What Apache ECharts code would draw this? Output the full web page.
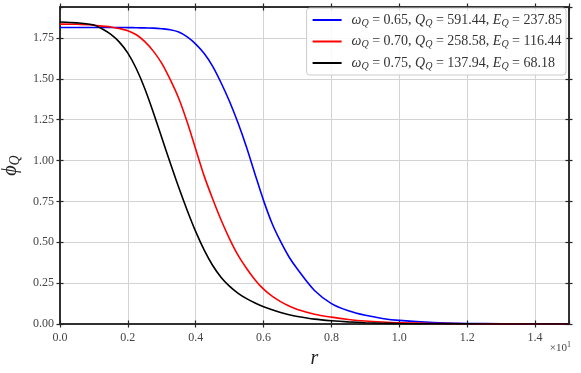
<!DOCTYPE html>
<html><head><meta charset="utf-8">
<script src="https://cdn.jsdelivr.net/npm/echarts@6/dist/echarts.min.js"></script>
<style>html,body{margin:0;padding:0;background:#fff}#c{width:581px;height:373px}</style>
</head><body><div id="c"></div>
<script>
var rVals = [0, 0.05, 0.1, 0.125, 0.15, 0.175, 0.2, 0.225, 0.25, 0.275, 0.3, 0.325, 0.35, 0.375, 0.4, 0.425, 0.45, 0.475, 0.5, 0.525, 0.55, 0.575, 0.6, 0.625, 0.65, 0.675, 0.7, 0.75, 0.8, 0.85, 0.9, 0.95, 1.0, 1.1, 1.2, 1.3, 1.4, 1.5];
var phiBlue = [1.815, 1.815, 1.815, 1.815, 1.815, 1.815, 1.814, 1.813, 1.812, 1.811, 1.807, 1.801, 1.787, 1.757, 1.713, 1.655, 1.577, 1.475, 1.360, 1.228, 1.080, 0.915, 0.755, 0.615, 0.505, 0.410, 0.335, 0.205, 0.125, 0.081, 0.053, 0.034, 0.022, 0.009, 0.0035, 0.0014, 0.0006, 0.0002];
var phiRed = [1.835, 1.834, 1.828, 1.823, 1.818, 1.808, 1.795, 1.770, 1.728, 1.670, 1.595, 1.495, 1.380, 1.235, 1.070, 0.905, 0.765, 0.635, 0.520, 0.420, 0.340, 0.270, 0.213, 0.170, 0.137, 0.110, 0.089, 0.060, 0.042, 0.028, 0.018, 0.012, 0.008, 0.0035, 0.0015, 0.0007, 0.0003, 0.0001];
var phiBlack = [1.848, 1.843, 1.830, 1.805, 1.772, 1.725, 1.658, 1.562, 1.440, 1.295, 1.140, 0.985, 0.835, 0.695, 0.565, 0.452, 0.358, 0.285, 0.230, 0.188, 0.155, 0.128, 0.106, 0.087, 0.071, 0.057, 0.046, 0.030, 0.020, 0.013, 0.008, 0.005, 0.003, 0.0012, 0.0005, 0.0002, 0.0001, 0];
var omegaVals = ['0.65', '0.70', '0.75'];
var qVals = ['591.44', '258.58', '137.94'];
var eVals = ['237.85', '116.44', '68.18'];
var colors = ['#0000ff', '#ff0000', '#000000'];
var xTicksInterval = 0.2, yTicksInterval = 0.25;

var FONT = 'Liberation Serif';
function zip(a, b) { return a.map(function (v, i) { return [v, b[i]]; }); }
var seriesData = [phiBlue, phiRed, phiBlack];
var names = ['s0', 's1', 's2'];
var axisColor = '#262626';

function xAx(pos, inside, primary) {
  return {
    type: 'value', min: 0, max: 1.5, interval: xTicksInterval, position: pos,
    axisLine: { show: true, onZero: false, lineStyle: { color: axisColor, width: 1.5 } },
    axisTick: { show: true, inside: inside, length: 3.5, lineStyle: { color: axisColor, width: 1.2 } },
    axisLabel: primary ? { show: true, showMaxLabel: false, color: '#444', fontFamily: FONT, fontSize: 12, margin: 8,
      formatter: function (v) { return v.toFixed(1); } } : { show: false },
    splitLine: { show: primary, lineStyle: { color: '#d3d3d3', width: 1 } },
    name: primary ? 'r' : '', nameLocation: 'middle', nameGap: 18,
    nameTextStyle: { fontFamily: FONT, fontStyle: 'italic', fontSize: 20, color: '#222' }
  };
}
function yAx(pos, inside, primary) {
  return {
    type: 'value', min: 0, max: 1.94, interval: yTicksInterval, position: pos,
    axisLine: { show: true, onZero: false, lineStyle: { color: axisColor, width: 1.5 } },
    axisTick: { show: true, inside: inside, length: 3.5, lineStyle: { color: axisColor, width: 1.2 } },
    axisLabel: primary ? { show: true, showMaxLabel: false, color: '#444', fontFamily: FONT, fontSize: 12, margin: 6,
      formatter: function (v) { return v.toFixed(2); } } : { show: false },
    splitLine: { show: primary, lineStyle: { color: '#d3d3d3', width: 1 } },
    name: primary ? '{a|ϕ}{s|Q}' : '', nameLocation: 'middle', nameGap: 35, nameRotate: 90,
    nameTextStyle: { rich: {
      a: { fontFamily: FONT, fontStyle: 'italic', fontSize: 20, color: '#222' },
      s: { fontFamily: FONT, fontStyle: 'italic', fontSize: 14, color: '#222', padding: [8, 0, 0, 0] }
    } }
  };
}

var chart = echarts.init(document.getElementById('c'), null, { renderer: 'canvas' });
var option = {
  animation: false,
  backgroundColor: '#fff',
  grid: { left: 60, right: 12, top: 7, bottom: 49, containLabel: false, outerBoundsMode: 'none' },
  xAxis: [xAx('bottom', false, true), xAx('bottom', true, false), xAx('top', true, false), xAx('top', false, false)],
  yAxis: [yAx('left', false, true), yAx('left', true, false), yAx('right', true, false), yAx('right', false, false)],
  legend: {
    data: names, orient: 'vertical', right: 15, top: 8, itemWidth: 29, itemHeight: 14, itemGap: 6.5,
    padding: [5, 4, 4, 5], backgroundColor: 'rgba(255,255,255,0.85)', borderColor: '#cccccc', borderWidth: 1, borderRadius: 3,
    itemStyle: { opacity: 0 },
    formatter: function (n) {
      var i = names.indexOf(n);
      return '{p|}{i|ω}{s|Q}{n| = ' + omegaVals[i] + ', }{i|Q}{s|Q}{n| = ' + qVals[i] + ', }{i|E}{s|Q}{n| = ' + eVals[i] + '}';
    },
    textStyle: { rich: {
      p: { width: 5 },
      i: { fontFamily: FONT, fontStyle: 'italic', fontSize: 14, color: '#333' },
      s: { fontFamily: FONT, fontStyle: 'italic', fontSize: 10, color: '#333', padding: [6, 0, 0, 0] },
      n: { fontFamily: FONT, fontSize: 14, color: '#333' }
    } }
  },
  graphic: [{
    type: 'text', right: 10, top: 341,
    style: { text: '{a|×10}{b|1}', rich: {
      a: { fontFamily: FONT, fontSize: 11, fill: '#444' },
      b: { fontFamily: FONT, fontSize: 8, fill: '#444', padding: [0, 0, 6, 0] }
    } }
  }],
  series: seriesData.map(function (d, i) {
    return { name: names[i], type: 'line', data: zip(rVals, d), smooth: 0.3, symbol: 'none', showSymbol: false,
      xAxisIndex: 0, yAxisIndex: 0, lineStyle: { color: colors[i], width: 1.6 }, itemStyle: { color: colors[i] }, z: 3 + i };
  })
};
chart.setOption(option);
</script></body></html>
